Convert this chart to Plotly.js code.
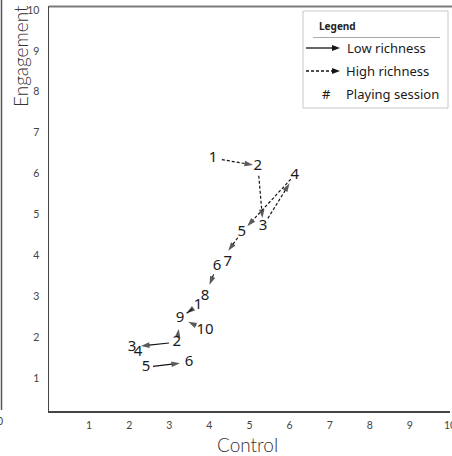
<!DOCTYPE html>
<html><head><meta charset="utf-8">
<script src="https://cdn.plot.ly/plotly-3.0.1.min.js"></script>
<style>html,body{margin:0;padding:0;background:#fff;} #chart{width:452px;height:456px;}</style>
</head><body><div id="chart"></div>
<script>
// ---- data ----
// High richness trajectory (dashed arrows)
const hiSession    = ['1','2','3','4','5','6','7','8'];
const hiControl    = [4.09,5.21,5.34,6.13,4.81,4.19,4.46,3.89];
const hiEngagement = [6.38,6.19,4.72,5.97,4.57,3.74,3.84,3.01];
const hiFrom = [0,1,2,3,4,5];
const hiTo   = [1,2,3,4,5,7];
// Low richness trajectory (solid arrows)
const loSession    = ['1','9','10','2','3','4','5','6'];
const loControl    = [3.72,3.27,3.89,3.19,2.07,2.22,2.42,3.49];
const loEngagement = [2.79,2.47,2.18,1.88,1.76,1.64,1.27,1.39];
const loFrom = [0,2,3,3,6];
const loTo   = [1,1,1,4,7];
const loDashed = [false,false,true,false,false];
const axisTicks = [1,2,3,4,5,6,7,8,9,10];
const legendTitle = 'Legend';
const legendItems = ['Low richness','High richness','Playing session'];
const xTitle = 'Control';
const yTitle = 'Engagement';

// ---- styling / layout ----
const W = 452, H = 456, mL = 49, mR = 2, mT = 6, mB = 45;
const pw = W - mL - mR, ph = H - mT - mB;
const xRange = [0, 10], yRange = [0.196, 10.098];
const sx = pw / (xRange[1] - xRange[0]), sy = ph / (yRange[1] - yRange[0]);
const hiGap0 = [9,10,9,6,7,9], hiGap1 = [5,8,10,8,19,12];
const loGap0 = [7,10,5,8,7],  loGap1 = [8,9,11,9,9];
const ink = '#151515', dashPat = '3px,2px';

function seg(x0,y0,x1,y1,g0,g1){
  const dx=(x1-x0)*sx, dy=(y1-y0)*sy, L=Math.hypot(dx,dy), ux=dx/L, uy=dy/L;
  return [x0+ux*g0/sx, y0+uy*g0/sy, x1-ux*g1/sx, y1-uy*g1/sy];
}
function arrowTrace(s, dashed){
  return {type:'scatter', mode:'lines+markers', x:[s[0],s[2]], y:[s[1],s[3]],
    line:{color:ink, width:1.2, dash: dashed ? dashPat : 'solid'},
    marker:{symbol:'arrow', size:[0,9], angleref:'previous', color:ink, line:{width:0}},
    hoverinfo:'skip', showlegend:false, cliponaxis:false};
}
const traces = [];
hiFrom.forEach((f,i)=>{
  const t = hiTo[i];
  traces.push(arrowTrace(seg(hiControl[f],hiEngagement[f],hiControl[t],hiEngagement[t],hiGap0[i],hiGap1[i]), true));
});
loFrom.forEach((f,i)=>{
  const t = loTo[i];
  traces.push(arrowTrace(seg(loControl[f],loEngagement[f],loControl[t],loEngagement[t],loGap0[i],loGap1[i]), loDashed[i]));
});
traces.push({type:'scatter', mode:'text', x: hiControl.concat(loControl), y: hiEngagement.concat(loEngagement),
  text: hiSession.concat(loSession), textposition:'middle center',
  textfont:{family:'Noto Sans, Open Sans, sans-serif', size:15, color:'#1a1a1a'},
  hoverinfo:'skip', showlegend:false, cliponaxis:false});

// pixel -> paper helpers for decorations
const px = v => (v - mL) / pw;
const py = v => (H - mB - v) / ph;

const shapes = [
  {type:'line', xref:'paper', yref:'paper', x0:px(49), x1:px(452), y0:py(6.5), y1:py(6.5), line:{color:'#7a7a7a', width:2}},
  {type:'line', xref:'paper', yref:'paper', x0:px(1.5), x1:px(1.5), y0:py(0), y1:py(410), line:{color:'#555', width:1.5}},
  {type:'rect', xref:'paper', yref:'paper', x0:px(303), x1:px(448), y0:py(11), y1:py(108), line:{color:'#c8c8c8', width:1}, fillcolor:'#fff'},
  {type:'line', xref:'paper', yref:'paper', x0:px(313), x1:px(440), y0:py(37.5), y1:py(37.5), line:{color:'#aaa', width:1}},
  {type:'line', xref:'paper', yref:'paper', x0:px(306), x1:px(333), y0:py(48), y1:py(48), line:{color:ink, width:1.3}},
  {type:'line', xref:'paper', yref:'paper', x0:px(306), x1:px(333), y0:py(71), y1:py(71), line:{color:ink, width:1.3, dash:dashPat}},
];
function head(tipX, y){
  return {type:'path', xref:'paper', yref:'paper',
    path:`M${px(tipX)},${py(y)} L${px(tipX-8)},${py(y-3)} L${px(tipX-8)},${py(y+3)} Z`,
    fillcolor:ink, line:{width:0}};
}
shapes.push(head(340,48), head(340,71));

const legFont = {family:'Noto Sans, Open Sans, sans-serif', size:13, color:'#1a1a1a'};
const ann = (t,x,y,xa,font,extra) => Object.assign({text:t, xref:'paper', yref:'paper', x:px(x), y:py(y),
  xanchor:xa, yanchor:'middle', showarrow:false, font:font}, extra||{});
const annotations = [
  ann('<b>'+legendTitle+'</b>', 317, 26, 'left', {family:'Noto Sans, sans-serif', size:10, color:'#222'}),
  ann(legendItems[0], 345, 48, 'left', legFont),
  ann(legendItems[1], 344, 71, 'left', legFont),
  ann('#', 326, 94, 'center', legFont),
  ann(legendItems[2], 344, 94, 'left', legFont),
  ann(yTitle, 20, 56, 'center', {family:'Lato, sans-serif', size:19, color:'#333', weight:300}, {textangle:-90}),
  ann(xTitle, 247, 444, 'center', {family:'Lato, sans-serif', size:19, color:'#333', weight:300}),
  ann('0', 0, 421, 'center', {family:'Lato, sans-serif', size:10.5, color:'#444'}),
];

const tickFont = {family:'Lato, sans-serif', size:10.5, color:'#444'};
const layout = {
  width:W, height:H, margin:{l:mL, r:mR, t:mT, b:mB, pad:0},
  paper_bgcolor:'#fff', plot_bgcolor:'#fff', showlegend:false,
  xaxis:{range:xRange, tickvals:axisTicks, ticktext:axisTicks.map(String), showgrid:false, zeroline:false,
    showline:true, linecolor:'#444', linewidth:1.5, ticks:'', ticklabelstandoff:4, tickfont:tickFont,
    ticklabeloverflow:'allow', fixedrange:true},
  yaxis:{range:yRange, tickvals:axisTicks, ticktext:axisTicks.map(String), showgrid:false, zeroline:false,
    showline:true, linecolor:'#444', linewidth:1.5, ticks:'', ticklabelstandoff:6, tickfont:tickFont,
    ticklabeloverflow:'allow', fixedrange:true},
  shapes:shapes, annotations:annotations
};
Plotly.newPlot('chart', traces, layout, {staticPlot:true, displayModeBar:false});
</script></body></html>
